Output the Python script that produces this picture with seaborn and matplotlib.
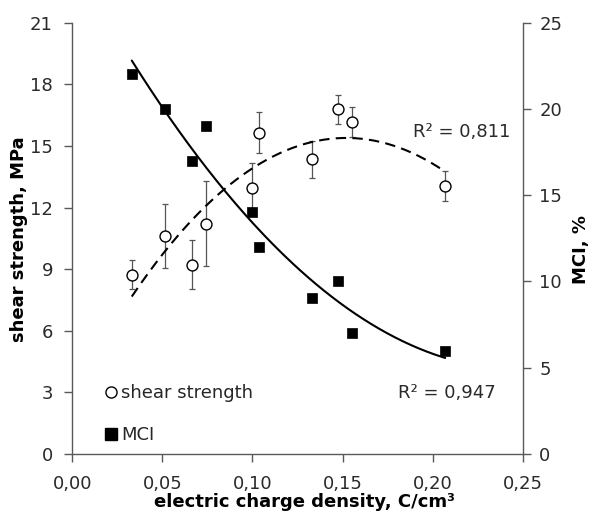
import matplotlib
matplotlib.use("Agg")
import matplotlib.pyplot as plt
from matplotlib.lines import Line2D
import numpy as np
import pandas as pd
import seaborn as sns

# data
charge = [0.033, 0.0517, 0.0665, 0.074, 0.0996, 0.1035, 0.1333, 0.1474, 0.1552, 0.207]
shear = [8.73, 10.63, 9.22, 11.22, 12.96, 15.64, 14.34, 16.78, 16.16, 13.04]
shear_err = [0.7, 1.55, 1.2, 2.05, 1.2, 1.0, 0.88, 0.7, 0.73, 0.73]
mci = [22.0, 20.02, 16.99, 19.01, 14.01, 12.02, 9.06, 10.03, 7.0, 5.97]

x_ticks = [0.0, 0.05, 0.10, 0.15, 0.20, 0.25]
left_ticks = [0, 3, 6, 9, 12, 15, 18, 21]
right_ticks = [0, 5, 10, 15, 20, 25]

df = pd.DataFrame({"charge": charge, "shear": shear, "err": shear_err, "mci": mci})

sns.set_style("ticks")
plt.rcParams['font.family'] = ['DejaVu Sans']
axis_col = "#595959"
text_col = "#2a2a2a"

f = plt.figure(figsize=(5.89, 5.15), dpi=100)
ax = f.add_axes([0.1228, 0.1184, 0.7646, 0.8376])
ax2 = ax.twinx()

# shear strength with error bars
ax.errorbar(df["charge"], df["shear"], yerr=df["err"], fmt="none", ecolor="#555555",
            elinewidth=0.9, capsize=2, capthick=0.9, zorder=1)
sns.scatterplot(data=df, x="charge", y="shear", ax=ax, marker="o", s=62,
                facecolor="white", edgecolor="black", linewidth=1.0, zorder=3)

# trendlines (2nd order polynomial)
xx = np.linspace(min(charge), max(charge), 200)
p1 = np.polyfit(charge, shear, 2)
ax.plot(xx, np.polyval(p1, xx), color="black", lw=1.5, ls=(0, (5, 3)), zorder=2)

sns.scatterplot(data=df, x="charge", y="mci", ax=ax2, marker="s", s=62,
                color="black", edgecolor="black", linewidth=0.5, zorder=3)
p2 = np.polyfit(charge, mci, 2)
ax2.plot(xx, np.polyval(p2, xx), color="black", lw=1.5, zorder=2)

ax.set_xlim(0, 0.25)
ax.set_ylim(0, 21)
ax2.set_ylim(0, 25)
ax.set_xticks(x_ticks)
ax.set_xticklabels([f"{t:.2f}".replace(".", ",") for t in x_ticks])
ax.set_yticks(left_ticks)
ax2.set_yticks(right_ticks)

for a in (ax, ax2):
    a.spines["top"].set_visible(False)
    for s in a.spines.values():
        s.set_color(axis_col)
        s.set_linewidth(1.0)
    a.tick_params(colors=axis_col, labelcolor=text_col, labelsize=13, length=6, width=1.0)
ax.tick_params(axis="y", pad=8)
ax.tick_params(axis="x", pad=9)
ax2.tick_params(axis="y", pad=6)
ax2.spines["left"].set_visible(False)
ax2.spines["bottom"].set_visible(False)
ax.spines["right"].set_visible(False)

ax.set_xlabel("electric charge density, C/cm³", fontsize=13, fontweight="bold", color="black")
ax.set_ylabel("shear strength, MPa", fontsize=13, fontweight="bold", color="black")
ax2.set_ylabel("MCI, %", fontsize=13, fontweight="bold", color="black")
ax.xaxis.set_label_coords(0.515, -0.09)
ax.yaxis.set_label_coords(-0.098, 0.497)
ax2.yaxis.set_label_coords(1.109, 0.473)

ax.text(0.2163, 15.66, "R² = 0,811", fontsize=13, ha="center", va="center", color=text_col)
ax.text(0.208, 2.99, "R² = 0,947", fontsize=13, ha="center", va="center", color=text_col)

handles = [Line2D([], [], marker="o", ls="none", mfc="white", mec="black", ms=8),
           Line2D([], [], marker="s", ls="none", mfc="black", mec="black", ms=8)]
ax2.legend(handles, ["shear strength", "MCI"], loc="lower left",
           bbox_to_anchor=(0.035, -0.015), frameon=False, fontsize=13,
           handlelength=0.7, handletextpad=0.25, labelspacing=1.35)

f.savefig("out.png", dpi=100)
